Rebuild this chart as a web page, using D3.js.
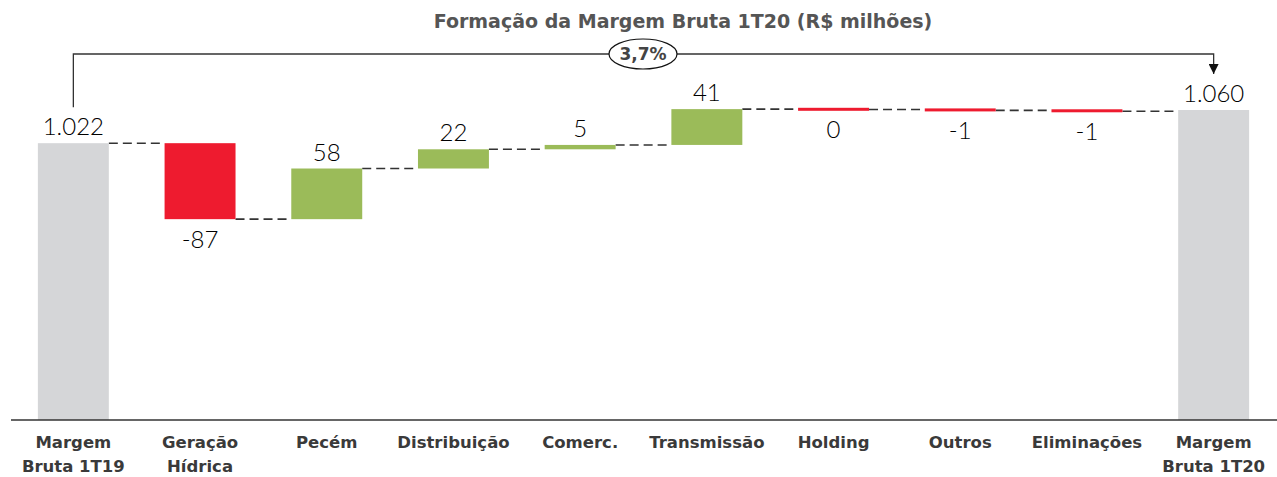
<!DOCTYPE html>
<html>
<head>
<meta charset="utf-8">
<script src="https://cdn.jsdelivr.net/npm/d3@7"></script>
<style>
  body { margin: 0; background: #fff; }
  svg { display: block; font-family: 'Century Gothic', Lato, 'DejaVu Sans', sans-serif; }
  .boldText { font-family: 'Century Gothic', 'DejaVu Sans', sans-serif; font-weight: bold; }
</style>
</head>
<body>
<div id="chart"></div>
<script>
// chart data
let categories = ['Margem|Bruta 1T19', 'Geração|Hídrica', 'Pecém', 'Distribuição', 'Comerc.',
                  'Transmissão', 'Holding', 'Outros', 'Eliminações', 'Margem|Bruta 1T20'];
let startValue = 1022,
    endValue = 1060;
let deltas = [-87, 58, 22, 5, 41, -0.4, -1, -1];
let deltaLabels = ['-87', '58', '22', '5', '41', '0', '-1', '-1'];
let totalLabels = ['1.022', '1.060'];
let growthLabel = '3,7%';
let title = 'Formação da Margem Bruta 1T20 (R$ milhões)';

let width = 1277, height = 477,
    baseY = 420;

let svg = d3.select('#chart').append('svg')
    .attr('width', width)
    .attr('height', height);

let x = d3.scaleBand()
    .domain(categories)
    .range([10, 1277])
    .paddingInner(0.44)
    .paddingOuter(0.22);

let y = d3.scaleLinear()
    .domain([705, 1060])
    .range([baseY, 110]);

// build the waterfall steps
let steps = [{cat: categories[0], from: y.domain()[0], to: startValue, type: 'total', label: totalLabels[0]}];
let running = startValue;
deltas.forEach((d, i) => {
    steps.push({cat: categories[i + 1], from: running, to: running + d, type: d < 0 ? 'neg' : 'pos', label: deltaLabels[i]});
    running += d;
});
steps.push({cat: categories[categories.length - 1], from: y.domain()[0], to: endValue, type: 'total', label: totalLabels[1]});

let colors = {total: '#d5d6d8', neg: '#ee1b2f', pos: '#9bbb59'};

// connectors between bar ends
let connectors = svg.append('g').attr('class', 'connectors');
steps.slice(0, -1).forEach((s, i) => {
    let next = steps[i + 1];
    connectors.append('line')
        .attr('x1', x(s.cat) + x.bandwidth())
        .attr('x2', x(next.cat))
        .attr('y1', y(s.to))
        .attr('y2', y(s.to))
        .attr('stroke', '#333')
        .attr('stroke-width', 1.6)
        .attr('stroke-dasharray', '9,5');
});

// bars
svg.append('g')
    .selectAll('rect')
    .data(steps)
    .enter().append('rect')
    .attr('x', d => x(d.cat))
    .attr('width', x.bandwidth())
    .attr('y', d => {
        let top = Math.min(y(d.from), y(d.to)),
            h = Math.abs(y(d.from) - y(d.to));
        return h < 3 ? (y(d.from) + y(d.to)) / 2 - 1.5 : top;
    })
    .attr('height', d => Math.max(3, Math.abs(y(d.from) - y(d.to))))
    .attr('fill', d => colors[d.type]);

// value labels
svg.append('g')
    .selectAll('text')
    .data(steps)
    .enter().append('text')
    .attr('x', d => x(d.cat) + x.bandwidth() / 2)
    .attr('y', d => {
        if (d.type === 'neg') return Math.max(y(d.from), y(d.to)) + 29;
        return Math.min(y(d.from), y(d.to)) - 8;
    })
    .attr('text-anchor', 'middle')
    .attr('font-size', 24)
    .attr('font-weight', 300)
    .attr('fill', '#000')
    .text(d => d.label);

// axis baseline
svg.append('line')
    .attr('x1', 11).attr('x2', width)
    .attr('y1', baseY).attr('y2', baseY)
    .attr('stroke', '#333')
    .attr('stroke-width', 1.5);

// category labels
let catLabels = svg.append('g')
    .selectAll('text')
    .data(categories)
    .enter().append('text')
    .attr('class', 'boldText')
    .attr('x', d => x(d) + x.bandwidth() / 2)
    .attr('y', 448)
    .attr('text-anchor', 'middle')
    .attr('font-size', 16.5)
    .attr('fill', '#3a3a3a');

catLabels.each(function(d) {
    let lines = d.split('|');
    lines.forEach((l, i) => {
        d3.select(this).append('tspan')
            .attr('x', x(d) + x.bandwidth() / 2)
            .attr('dy', i === 0 ? 0 : 24)
            .text(l);
    });
});

// title
svg.append('text')
    .attr('class', 'boldText')
    .attr('x', 683)
    .attr('y', 28)
    .attr('text-anchor', 'middle')
    .attr('font-size', 19)
    .attr('fill', '#555')
    .text(title);

// growth bracket
let x0 = x(categories[0]) + x.bandwidth() / 2,
    x1 = x(categories[categories.length - 1]) + x.bandwidth() / 2,
    bracketY = 54;

svg.append('defs').append('marker')
    .attr('id', 'arrow')
    .attr('viewBox', '0 0 10 10')
    .attr('refX', 10).attr('refY', 5)
    .attr('markerWidth', 10).attr('markerHeight', 10)
    .attr('markerUnits', 'userSpaceOnUse')
    .attr('orient', 'auto')
    .append('path')
    .attr('d', 'M0,0 L10,5 L0,10 Z')
    .attr('fill', '#111');

svg.append('path')
    .attr('d', `M${x0},${y(startValue) - 36} V${bracketY} H${x1} V${y(endValue) - 36}`)
    .attr('fill', 'none')
    .attr('stroke', '#333')
    .attr('stroke-width', 1.3)
    .attr('marker-end', 'url(#arrow)');

let cx = 643;
svg.append('ellipse')
    .attr('cx', cx).attr('cy', bracketY)
    .attr('rx', 34).attr('ry', 15)
    .attr('fill', '#fff')
    .attr('stroke', '#111')
    .attr('stroke-width', 1.2);

svg.append('text')
    .attr('class', 'boldText')
    .attr('x', cx).attr('y', bracketY + 6)
    .attr('text-anchor', 'middle')
    .attr('font-size', 17)
    .attr('fill', '#444')
    .text(growthLabel);
</script>
</body>
</html>
